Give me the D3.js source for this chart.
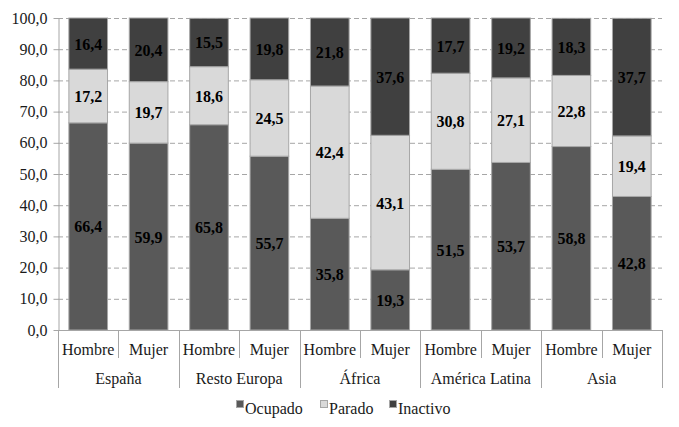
<!DOCTYPE html>
<html>
<head>
<meta charset="utf-8">
<script src="https://cdn.jsdelivr.net/npm/d3@7"></script>
<style>
  body { margin: 0; background: #fff; }
  svg { display: block; }
  svg text { font-family: "Liberation Serif", serif !important; }
</style>
</head>
<body>
<svg id="chart" width="679" height="427"></svg>
<script>
let regions = ["España", "Resto Europa", "África", "América Latina", "Asia"];
let sexes = ["Hombre", "Mujer"];
let series = ["Ocupado", "Parado", "Inactivo"];

let ocupado = [66.4, 59.9, 65.8, 55.7, 35.8, 19.3, 51.5, 53.7, 58.8, 42.8];
let parado = [17.2, 19.7, 18.6, 24.5, 42.4, 43.1, 30.8, 27.1, 22.8, 19.4];
let inactivo = [16.4, 20.4, 15.5, 19.8, 21.8, 37.6, 17.7, 19.2, 18.3, 37.7];

let yTicks = [0, 10, 20, 30, 40, 50, 60, 70, 80, 90, 100];

let colors = { "Ocupado": "#595959", "Parado": "#d9d9d9", "Inactivo": "#404040" };
let font = 'Liberation Serif';

let svg = d3.select('#chart').attr('font-family', font);

// rows for the stack, one per bar
let rows = [];
regions.forEach((r, i) => {
    sexes.forEach((s, j) => {
        let k = i * 2 + j;
        rows.push({ key: r + '|' + s, region: r, sex: s,
            Ocupado: ocupado[k], Parado: parado[k], Inactivo: inactivo[k] });
    });
});

let plotLeft = 58, plotRight = 662, plotTop = 18, plotBottom = 330;

let x = d3.scaleBand()
    .domain(rows.map(d => d.key))
    .range([plotLeft, plotRight])
    .paddingInner(0.36)
    .paddingOuter(0.18);

let y = d3.scaleLinear().domain([0, 100]).range([plotBottom, plotTop]);

let fmt = v => v.toFixed(1).replace('.', ',');

// grid lines
svg.append('g')
    .selectAll('line')
    .data(yTicks.filter(t => t > 0))
    .enter()
    .append('line')
    .attr('x1', plotLeft)
    .attr('x2', plotRight)
    .attr('y1', d => y(d) + 0.5)
    .attr('y2', d => y(d) + 0.5)
    .attr('stroke', '#a6a6a6')
    .attr('stroke-dasharray', '5,3');

// y axis
let yAxis = svg.append('g')
    .attr('transform', 'translate(' + (plotLeft + 0.5) + ',0)')
    .call(d3.axisLeft(y).tickValues(yTicks).tickFormat(fmt).tickSize(5).tickSizeOuter(0))
    .attr('font-family', font)
    .attr('font-size', 16);
yAxis.select('.domain').attr('stroke', '#a6a6a6');
yAxis.selectAll('.tick line').attr('stroke', '#a6a6a6');
yAxis.selectAll('text')
    .attr('x', -11)
    .attr('font-family', font)
    .attr('fill', '#1a1a1a');

// bars
let stacked = d3.stack().keys(series)(rows);

let layer = svg.append('g')
    .selectAll('g')
    .data(stacked)
    .enter()
    .append('g')
    .attr('fill', d => colors[d.key]);

layer.selectAll('rect')
    .data(d => d)
    .enter()
    .append('rect')
    .attr('x', d => x(d.data.key))
    .attr('y', d => y(d[1]))
    .attr('width', x.bandwidth())
    .attr('height', d => y(d[0]) - y(d[1]))
    .attr('stroke', '#a6a6a6')
    .attr('stroke-width', 1);

// value labels
let labels = svg.append('g');
stacked.forEach(s => {
    labels.selectAll(null)
        .data(s)
        .enter()
        .append('text')
        .attr('x', d => x(d.data.key) + x.bandwidth() / 2)
        .attr('y', d => y((d[0] + d[1]) / 2) + 6)
        .attr('text-anchor', 'middle')
        .attr('font-family', font)
        .attr('font-size', 16)
        .attr('font-weight', 'bold')
        .attr('fill', '#000')
        .text(d => fmt(d.data[s.key]));
});

// x axis baseline
svg.append('line')
    .attr('x1', plotLeft).attr('x2', plotRight)
    .attr('y1', plotBottom + 0.5).attr('y2', plotBottom + 0.5)
    .attr('stroke', '#a6a6a6');

// dividers
let step = x.step();
let edges = d3.range(rows.length + 1).map(i => plotLeft + i * step);
svg.append('g')
    .selectAll('line')
    .data(edges)
    .enter()
    .append('line')
    .attr('x1', d => Math.round(d) + 0.5)
    .attr('x2', d => Math.round(d) + 0.5)
    .attr('y1', plotBottom)
    .attr('y2', (d, i) => i % 2 === 0 ? 388 : 358)
    .attr('stroke', '#a6a6a6');

// sex labels
svg.append('g')
    .selectAll('text')
    .data(rows)
    .enter()
    .append('text')
    .attr('x', d => x(d.key) + x.bandwidth() / 2)
    .attr('y', 355)
    .attr('text-anchor', 'middle')
    .attr('font-family', font)
    .attr('font-size', 16)
    .attr('fill', '#1a1a1a')
    .text(d => d.sex);

// region labels
svg.append('g')
    .selectAll('text')
    .data(regions)
    .enter()
    .append('text')
    .attr('x', (d, i) => plotLeft + (i * 2 + 1) * step)
    .attr('y', 384)
    .attr('text-anchor', 'middle')
    .attr('font-family', font)
    .attr('font-size', 16)
    .attr('fill', '#1a1a1a')
    .text(d => d);

// legend
let legendX = [236, 320, 389];
let legend = svg.append('g')
    .selectAll('g')
    .data(series)
    .enter()
    .append('g')
    .attr('transform', (d, i) => 'translate(' + legendX[i] + ',0)');

legend.append('rect')
    .attr('x', 0.5).attr('y', 400.5)
    .attr('width', 7).attr('height', 7)
    .attr('fill', d => colors[d])
    .attr('stroke', '#a6a6a6');

legend.append('text')
    .attr('x', 9)
    .attr('y', 414)
    .attr('font-family', font)
    .attr('font-size', 16)
    .attr('fill', '#1a1a1a')
    .text(d => d);
</script>
</body>
</html>
